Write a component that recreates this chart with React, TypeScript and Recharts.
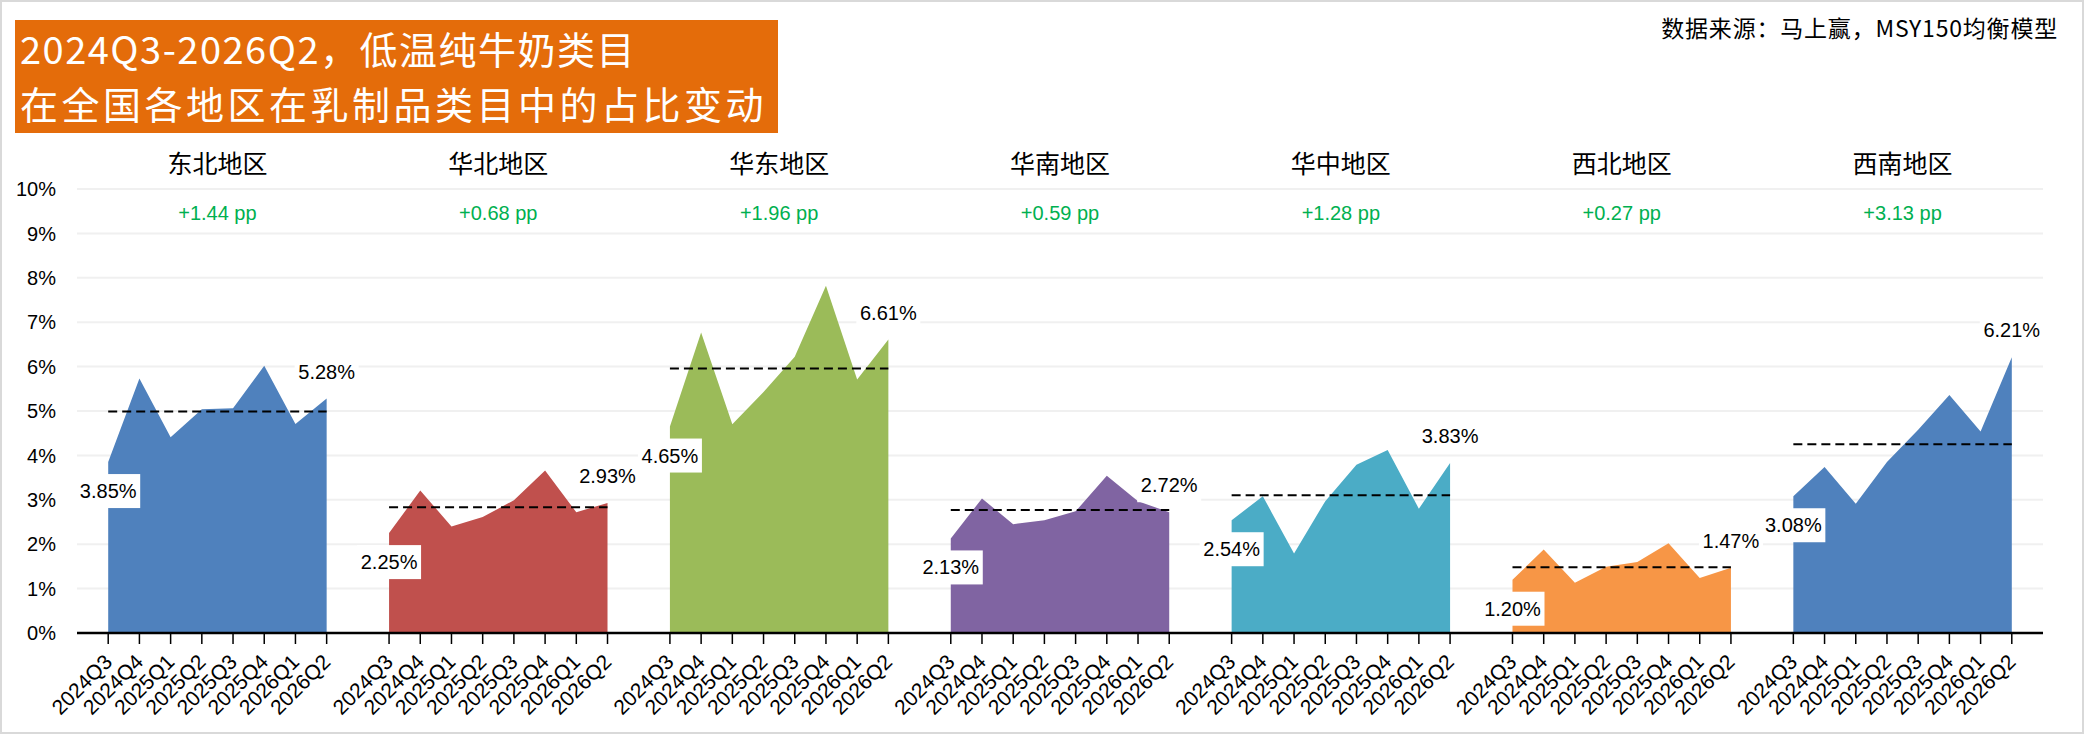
import React from "react";
import { Area, CartesianGrid, ComposedChart, LabelList, Line, ReferenceArea, XAxis, YAxis } from "recharts";

const REGIONS = ["东北地区", "华北地区", "华东地区", "华南地区", "华中地区", "西北地区", "西南地区"];
const QUARTERS = ["2024Q3", "2024Q4", "2025Q1", "2025Q2", "2025Q3", "2025Q4", "2026Q1", "2026Q2"];

// share of low-temp pure milk within dairy, % per quarter
const NORTHEAST = [3.85, 5.73, 4.41, 5.04, 5.06, 6.02, 4.71, 5.28];
const NORTH = [2.25, 3.21, 2.4, 2.61, 2.99, 3.66, 2.72, 2.93];
const EAST = [4.65, 6.77, 4.7, 5.43, 6.22, 7.82, 5.71, 6.61];
const SOUTH = [2.13, 3.03, 2.45, 2.54, 2.74, 3.54, 2.97, 2.72];
const CENTRAL = [2.54, 3.08, 1.79, 2.97, 3.79, 4.12, 2.8, 3.83];
const NORTHWEST = [1.2, 1.88, 1.13, 1.49, 1.6, 2.02, 1.24, 1.47];
const SOUTHWEST = [3.08, 3.74, 2.91, 3.85, 4.58, 5.36, 4.54, 6.21];

// dashed reference level per region (period mean)
const AVERAGES = [4.99, 2.83, 5.96, 2.77, 3.1, 1.48, 4.25];
const CHANGES = ["+1.44 pp", "+0.68 pp", "+1.96 pp", "+0.59 pp", "+1.28 pp", "+0.27 pp", "+3.13 pp"];
const Y_TICKS = [0, 1, 2, 3, 4, 5, 6, 7, 8, 9, 10];

const COLORS = ["#4F81BD", "#C0504D", "#9BBB59", "#8064A2", "#4BACC6", "#F79646", "#4F81BD"];
const SERIES = [NORTHEAST, NORTH, EAST, SOUTH, CENTRAL, NORTHWEST, SOUTHWEST];

const NUM_FONT = '"Liberation Sans", Arial, sans-serif';
const CJK_FONT = '"Noto Sans CJK SC", "Noto Sans", sans-serif';
const GROUP_SIZE = QUARTERS.length + 1; // 8 quarters + one empty slot between regions

type Row = Record<string, string | number | null>;

const emptyRow = (key: string): Row => {
  const row: Row = { key };
  REGIONS.forEach((_, g) => {
    row[`v${g}`] = null;
    row[`avg${g}`] = null;
  });
  return row;
};

const rows: Row[] = [emptyRow("gap-start")];
REGIONS.forEach((_, g) => {
  QUARTERS.forEach((q, i) => {
    const row = emptyRow(`${g}|${q}`);
    row[`v${g}`] = SERIES[g][i];
    row[`avg${g}`] = AVERAGES[g];
    rows.push(row);
  });
  rows.push(emptyRow(`gap-${g}`));
});

const tickKeys = REGIONS.flatMap((_, g) => QUARTERS.map((q) => `${g}|${q}`));

function QuarterTick({ x, y, payload }: any) {
  const label = String(payload.value).split("|")[1] ?? "";
  const ox = x;
  const oy = y + 12;
  return (
    <text
      x={ox}
      y={oy}
      transform={`rotate(-45, ${ox}, ${oy})`}
      textAnchor="end"
      dy="0.35em"
      fontSize={21}
      fontFamily={NUM_FONT}
      fill="#000"
    >
      {label}
    </text>
  );
}

// white-boxed value tag under the first point and above the last point of a region
const endLabel = (g: number) => (props: any) => {
  const x = props.x ?? props.viewBox?.x;
  const y = props.y ?? props.viewBox?.y;
  const { index, value } = props;
  const first = 1 + g * GROUP_SIZE;
  const last = first + QUARTERS.length - 1;
  if (value == null || x == null || y == null) return null;
  if (index !== first && index !== last) return null;
  const cy = index === first ? y + 29 : y - 27;
  const w = 64;
  const h = 34;
  return (
    <g>
      <rect x={x - w / 2} y={cy - h / 2} width={w} height={h} fill="#fff" />
      <text x={x} y={cy} textAnchor="middle" dominantBaseline="central" fontSize={20} fontFamily={NUM_FONT} fill="#000">
        {`${Number(value).toFixed(2)}%`}
      </text>
    </g>
  );
};

function GroupHeader({ viewBox, title, change }: any) {
  if (!viewBox) return null;
  const cx = viewBox.x + viewBox.width / 2;
  return (
    <g>
      <text x={cx} y={viewBox.y - 27} textAnchor="middle" dominantBaseline="central" fontSize={25} fontFamily={CJK_FONT} fill="#000">
        {title}
      </text>
      <text x={cx} y={viewBox.y + 24} textAnchor="middle" dominantBaseline="central" fontSize={20} fontFamily={NUM_FONT} fill="#00B050">
        {change}
      </text>
    </g>
  );
}

export default function App() {
  return (
    <div style={{ position: "fixed", left: 0, top: 0, width: 2084, height: 734, background: "#fff", overflow: "hidden" }}>
      <div style={{ position: "absolute", left: 0, top: 0 }}>
        <ComposedChart width={2084} height={734} data={rows} margin={{ top: 189, right: 41, bottom: 0, left: 17 }}>
          <CartesianGrid vertical={false} stroke="#F0F0F0" strokeWidth={2} />
          <XAxis
            dataKey="key"
            type="category"
            scale="point"
            ticks={tickKeys}
            interval={0}
            height={101}
            tickSize={11}
            tickMargin={2}
            tick={<QuarterTick />}
            tickLine={{ stroke: "#000", strokeWidth: 1.5 }}
            axisLine={{ stroke: "#000", strokeWidth: 2.5 }}
          />
          <YAxis
            type="number"
            domain={[0, 10]}
            ticks={Y_TICKS}
            width={60}
            tickSize={0}
            tickMargin={21}
            axisLine={false}
            tickLine={false}
            tickFormatter={(v) => `${v}%`}
            tick={{ fontSize: 20, fill: "#000", fontFamily: NUM_FONT }}
          />
          {REGIONS.map((region, g) => (
            <ReferenceArea
              key={`head-${g}`}
              x1={`${g}|${QUARTERS[0]}`}
              x2={`${g}|${QUARTERS[QUARTERS.length - 1]}`}
              y1={0}
              y2={10}
              fill="none"
              fillOpacity={0}
              stroke="none"
              ifOverflow="visible"
              label={(p: any) => <GroupHeader viewBox={p.viewBox} title={region} change={CHANGES[g]} />}
            />
          ))}
          {REGIONS.map((_, g) => (
            <Area
              key={`area-${g}`}
              type="linear"
              dataKey={`v${g}`}
              stroke="none"
              fill={COLORS[g]}
              fillOpacity={1}
              dot={false}
              activeDot={false}
              connectNulls={false}
              isAnimationActive={false}
            />
          ))}
          {REGIONS.map((_, g) => (
            <Line
              key={`avg-${g}`}
              type="linear"
              dataKey={`avg${g}`}
              stroke="#000"
              strokeWidth={2}
              strokeDasharray="9 5"
              dot={false}
              activeDot={false}
              connectNulls={false}
              isAnimationActive={false}
            />
          ))}
          {REGIONS.map((_, g) => (
            <Area
              key={`lab-${g}`}
              type="linear"
              dataKey={`v${g}`}
              stroke="none"
              fill="none"
              fillOpacity={0}
              dot={false}
              activeDot={false}
              connectNulls={false}
              isAnimationActive={false}
            >
              <LabelList dataKey={`v${g}`} content={endLabel(g)} />
            </Area>
          ))}
        </ComposedChart>
      </div>
      <div
        style={{
          position: "absolute",
          left: 15,
          top: 20,
          width: 763,
          height: 113,
          background: "#E46C0A",
          color: "#fff",
          fontFamily: CJK_FONT,
          fontSize: 38,
          lineHeight: "normal",
          paddingLeft: 5,
          boxSizing: "border-box",
          whiteSpace: "nowrap",
        }}
      >
        <div style={{ letterSpacing: 1.5 }}>2024Q3-2026Q2，低温纯牛奶类目</div>
        <div style={{ letterSpacing: 3.5 }}>在全国各地区在乳制品类目中的占比变动</div>
      </div>
      <div
        style={{
          position: "absolute",
          right: 26,
          top: 12,
          fontFamily: CJK_FONT,
          fontSize: 23,
          lineHeight: "30px",
          letterSpacing: 0.8,
          color: "#000",
          whiteSpace: "nowrap",
        }}
      >
        数据来源：马上赢，MSY150均衡模型
      </div>
      <div style={{ position: "absolute", inset: 0, border: "2px solid #D9D9D9", pointerEvents: "none" }} />
    </div>
  );
}
